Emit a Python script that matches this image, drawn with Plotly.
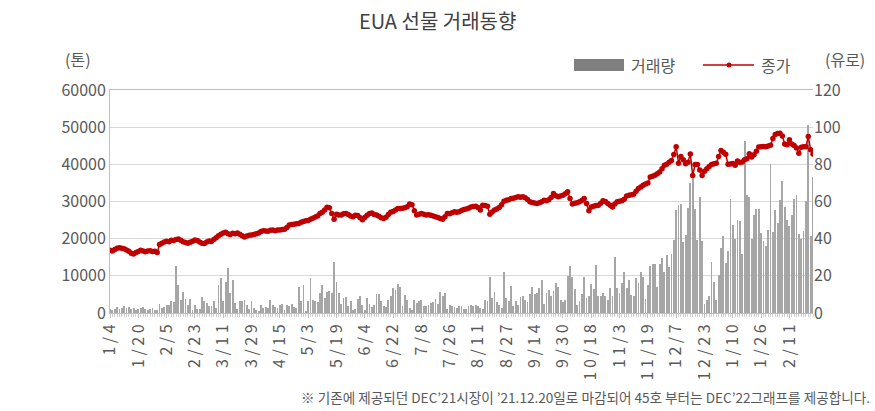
import plotly.graph_objects as go

# ---------------- data ----------------
tick_labels = ["1/4", "1/20", "2/5", "2/23", "3/11", "3/29", "4/15", "5/3", "5/19", "6/4",
               "6/22", "7/8", "7/26", "8/11", "8/27", "9/14", "9/30", "10/18", "11/3",
               "11/19", "12/7", "12/23", "1/10", "1/26", "2/11"]

# daily traded volume (tonnes)
volume = [
    1100, 800, 1200, 1500, 1000, 1300, 1800, 1400, 1600, 1100, 1300, 700,
    1100, 1400, 1700, 1200, 700, 1200, 1400, 700, 900, 2500, 1300, 1600,
    2100, 2100, 3100, 3000, 12700, 7600, 3600, 5700, 3900, 2200, 3800, 900,
    2200, 1000, 1100, 4300, 3300, 2700, 2000, 1800, 3100, 1400, 7500, 9300,
    3100, 8300, 12000, 5400, 8900, 2700, 1100, 3300, 3100, 3600, 2100, 1100,
    3300, 1400, 900, 600, 2100, 1300, 1500, 1300, 3600, 2200, 1500, 1300,
    2200, 2500, 900, 2200, 1800, 2500, 1500, 1300, 7000, 3100, 7600, 600,
    3100, 9400, 3600, 3100, 2900, 5400, 7500, 4000, 5700, 6000, 5400, 13600,
    8300, 5400, 2500, 4000, 4300, 2000, 3100, 900, 1100, 3800, 4600, 2200,
    900, 4000, 2500, 1600, 2100, 5200, 5200, 3100, 1800, 1500, 3600, 4600,
    6700, 6200, 7900, 7000, 1800, 4900, 3600, 1300, 900, 3600, 2700, 3300,
    3400, 2000, 2000, 2200, 2700, 2900, 3800, 2500, 5600, 4500, 5500, 1100,
    2200, 1800, 1500, 1300, 2000,
    1800, 1100, 1100, 1800, 2100, 1800, 2200, 2000, 1300, 1100, 3600, 3100,
    9800, 4000, 5600, 2900, 2200, 1300, 11000, 4000, 3100, 7300, 2000, 3300,
    2200, 4300, 4600, 3600, 2900, 5100, 7000, 5100, 5500, 6700, 8800, 2300,
    5400, 6200, 4600, 6000, 8200, 7100, 3600, 2900, 3400, 10000, 12700, 9600,
    6400, 2200, 3100, 5100, 9800,
    4000, 4500, 7900, 6400, 12900, 4600, 4600, 5400, 4500, 3400,
    6700, 4600, 15000, 6700, 5400, 8000, 11000, 6700, 8900, 4900,
    4700, 9400, 8000, 10900, 9800, 3800, 7600, 12700, 13300, 13200,
    7000, 13100, 14700, 10900, 15700, 12500, 15900, 19600, 27700, 29000,
    29300, 19000, 21000, 28300, 34900, 37000, 27900, 19600, 31300, 19300,
    2400, 3500, 4600, 13800, 8400, 3500, 10200, 17400, 20700, 13400,
    16700, 30800, 23700, 20000, 25000, 24800, 15900, 46200, 31700, 31200,
    20000, 26500, 28100, 28100, 21400, 19400, 17900, 22300, 40200, 21900,
    27700, 24100, 30400, 35600, 28600, 25000, 23400, 26300, 30800, 31700,
    21200, 20000, 22100, 30200, 50500, 20700, 36600,
]

# daily settlement price (EUR)
price = [
    33.7, 33.3, 34.2, 34.9, 35.1, 34.8, 34.6, 33.9, 33.2, 32.1, 31.8, 32.6,
    33.1, 33.8, 33.4, 33.0, 33.4, 33.5, 33.1, 33.2, 32.6, 36.9, 37.6, 38.2,
    38.6, 38.4, 39.2, 39.0, 39.6, 39.8, 39.1, 38.3, 37.9, 37.6, 38.1, 38.6,
    39.3, 39.0, 38.2, 37.6, 37.4, 38.2, 38.8, 38.5, 39.6, 40.5, 41.6, 42.4,
    43.0, 43.4, 42.7, 42.3, 42.9, 42.6, 43.1, 42.4, 41.6, 40.9, 41.4, 41.8,
    42.0, 42.3, 42.6, 43.0, 43.8, 44.3, 44.1, 44.0, 44.5, 44.6, 44.3, 44.7,
    44.6, 44.9, 45.1, 46.0, 47.3, 47.6, 47.8, 48.0, 48.2, 48.9, 49.2, 49.6,
    49.8, 50.5, 51.0, 51.6, 52.2, 53.6, 54.2, 55.4, 56.9, 56.6, 53.6, 50.4,
    53.2, 52.8, 52.7, 53.4, 53.6, 53.0, 52.2, 51.8, 52.6, 52.4, 51.2, 50.2,
    51.4, 52.6, 53.6, 53.8, 53.0, 52.7, 52.1, 51.3, 50.9, 51.5, 53.0, 54.2,
    54.6, 55.4, 56.2, 56.3, 56.4, 56.6, 57.2, 58.6, 58.2, 55.0, 52.7, 53.2,
    53.6, 53.2, 52.7, 52.9, 52.6, 52.2, 51.8, 51.4, 50.8, 50.5, 51.8, 53.6,
    53.4, 53.9, 54.5, 54.2, 54.5, 55.2, 55.7, 56.0, 56.4, 57.1, 57.3, 57.5,
    56.8, 55.4, 58.0, 57.8, 57.5, 53.2, 54.3, 55.4, 56.0, 56.8, 58.2, 60.2,
    60.7, 60.9, 61.6, 61.8, 62.1, 62.5, 62.3, 62.5, 62.0, 61.1, 59.8, 59.5,
    59.2, 58.9, 59.3, 59.8, 60.7, 60.4, 61.0, 62.2, 64.3, 63.1, 62.5, 63.0,
    63.4, 64.2, 65.2, 61.6, 58.6, 59.0, 59.3, 59.8, 60.6, 61.6, 58.9, 55.0,
    57.0, 57.5, 57.8, 58.0, 59.0, 60.4, 60.0, 58.9, 58.0, 57.1, 58.6, 59.8,
    60.2, 60.4, 61.2, 63.0, 63.4, 63.6, 63.9, 65.5, 67.0, 67.8, 68.7, 69.4,
    70.0, 73.2, 73.6, 74.1, 75.0, 75.9, 77.6, 79.5,
    80.0, 81.1, 82.0, 85.3, 89.5, 80.6, 84.2, 82.4, 80.3, 81.1, 85.6, 74.0,
    79.9, 79.9, 77.0, 74.0, 76.3, 77.6, 78.8, 79.9, 80.3, 80.6, 84.2, 87.5,
    86.5, 85.4, 80.0, 80.2, 80.4, 79.5, 81.8, 81.0, 81.3, 82.5, 83.0, 85.7,
    83.9, 85.2, 87.1, 89.3, 89.5, 89.6, 89.4,
    89.9, 90.3, 93.9, 96.0, 96.6, 96.7, 95.2, 91.0, 90.6, 93.2, 91.0, 90.2,
    88.8, 86.0, 89.2, 89.4, 89.5, 95.0, 87.8, 85.6,
]

assert len(volume) == len(price), (len(volume), len(price))
n = len(price)
idx = list(range(n))
tick_pos = idx[::12][:len(tick_labels)]
# rotated date labels in the reference are drawn with wide letter spacing
tick_text = [" ".join(lbl) for lbl in tick_labels]

# ---------------- layout helpers ----------------
W, H = 875, 411
L, R, T, B = 110, 813, 90, 313
def px(x):
    return (x - L) / (R - L)
def py(y):
    return (B - y) / (B - T)

FONT = "Noto Sans CJK KR"
GRAY = "#595959"
RED = "#c00000"

fig = go.Figure()
fig.add_bar(x=idx, y=volume, name="거래량", marker=dict(color="#a6a6a6", line=dict(width=0)),
            width=0.36, yaxis="y", showlegend=False)
fig.add_scatter(x=idx, y=price, name="종가", mode="lines+markers",
                line=dict(color=RED, width=1.5), marker=dict(size=5.5, color=RED),
                yaxis="y2", showlegend=False)

fig.update_layout(
    width=W, height=H,
    margin=dict(l=L, r=W - R, t=T, b=H - B),
    paper_bgcolor="white", plot_bgcolor="white",
    font=dict(family=FONT, color=GRAY, size=16),
    bargap=0,
    xaxis=dict(range=[0, n - 1], tickvals=tick_pos, ticktext=tick_text, tickangle=-90,
               showgrid=False, zeroline=False, showline=True, linecolor="#bfbfbf",
               linewidth=1, mirror=True, ticks="outside", ticklen=4, tickcolor="#bfbfbf",
               minor=dict(dtick=1, tick0=0, ticks="outside", ticklen=3, tickcolor="#d0d0d0"),
               tickfont=dict(size=16, color=GRAY, family=FONT)),
    yaxis=dict(range=[0, 60000], dtick=10000, tickformat="d", showgrid=True,
               gridcolor="#d9d9d9", gridwidth=1, zeroline=False, showline=True,
               linecolor="#bfbfbf", ticks="", tickfont=dict(size=16, color=GRAY)),
    yaxis2=dict(range=[0, 120], dtick=20, overlaying="y", side="right", showgrid=False,
                zeroline=False, showline=False, ticks="", tickfont=dict(size=16, color=GRAY)),
)

ann = []
ann.append(dict(text="EUA 선물 거래동향", x=px(437), y=py(20), xref="paper", yref="paper",
                showarrow=False, xanchor="center", yanchor="middle",
                font=dict(size=20, color="#404040", family=FONT)))
ann.append(dict(text="(톤)", x=px(78), y=py(59), xref="paper", yref="paper", showarrow=False,
                xanchor="center", yanchor="middle", font=dict(size=16, color=GRAY)))
ann.append(dict(text="(유로)", x=px(845), y=py(59), xref="paper", yref="paper", showarrow=False,
                xanchor="center", yanchor="middle", font=dict(size=16, color=GRAY)))
ann.append(dict(text="거래량", x=px(629), y=py(65), xref="paper", yref="paper", showarrow=False,
                xanchor="left", yanchor="middle", font=dict(size=16, color=GRAY)))
ann.append(dict(text="종가", x=px(759), y=py(65), xref="paper", yref="paper", showarrow=False,
                xanchor="left", yanchor="middle", font=dict(size=16, color=GRAY)))
ann.append(dict(text="※ 기존에 제공되던 DEC’21시장이 ’21.12.20일로 마감되어 45호 부터는 DEC’22그래프를 제공합니다.",
                x=px(872), y=py(397), xref="paper", yref="paper", showarrow=False,
                xanchor="right", yanchor="middle", font=dict(size=13.6, color=GRAY)))
fig.update_layout(annotations=ann)

shapes = [
    dict(type="rect", xref="paper", yref="paper", x0=px(574), x1=px(624), y0=py(71), y1=py(59),
         fillcolor="#7f7f7f", line=dict(width=0)),
    dict(type="line", xref="paper", yref="paper", x0=px(703), x1=px(754), y0=py(65), y1=py(65),
         line=dict(color=RED, width=1.5)),
    dict(type="circle", xref="paper", yref="paper", x0=px(726.5), x1=px(731.5), y0=py(67.5),
         y1=py(62.5), fillcolor=RED, line=dict(width=0)),
]
fig.update_layout(shapes=shapes)

fig.write_html("out.html", config={"displayModeBar": False},
               post_script="document.body.style.margin='0px';")
